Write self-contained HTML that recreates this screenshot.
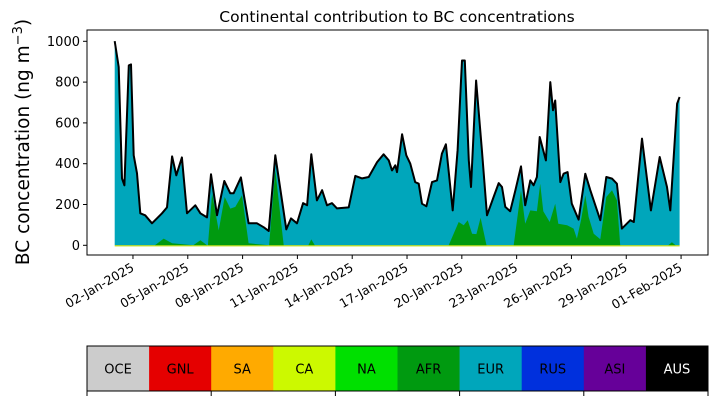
<!DOCTYPE html>
<html><head><meta charset="utf-8"><style>
body{margin:0;background:#fff;}
svg{display:block;font-family:"DejaVu Sans","Liberation Sans",sans-serif;}
</style></head><body>
<svg id="c" width="716" height="402" viewBox="0 0 716 402"></svg>
<script>
const times=[0,0.22,0.40,0.53,0.77,0.89,1.04,1.22,1.40,1.67,2.04,2.59,2.86,3.14,3.37,3.68,3.96,4.41,4.69,5.05,5.27,5.60,6.0,6.33,6.51,6.91,7.33,7.79,8.16,8.43,8.79,9.39,9.65,9.98,10.31,10.53,10.76,11.07,11.35,11.62,11.89,12.17,12.81,13.17,13.54,13.90,14.36,14.72,15.0,15.18,15.36,15.45,15.73,15.96,16.18,16.45,16.64,16.82,17.06,17.37,17.64,17.91,18.13,18.5,18.77,19.01,19.16,19.38,19.5,19.78,20.1,20.38,20.74,21.02,21.2,21.38,21.65,21.93,22.24,22.47,22.75,22.93,23.11,23.26,23.6,23.84,23.99,24.11,24.39,24.57,24.79,25.02,25.39,25.76,26.03,26.58,26.91,27.22,27.49,27.76,28.22,28.41,28.86,29.35,29.83,30.23,30.41,30.78,30.92];
const totalBC=[1001,874,328,294,882,887,441,353,157,147,108,157,186,436,343,431,157,196,157,137,348,147,315,255,255,333,108,108,88,70,441,78,132,108,207,196,446,220,270,196,207,181,186,340,328,335,408,446,416,367,392,359,544,441,400,310,302,204,191,310,318,449,495,171,466,906,906,416,286,808,466,147,237,305,286,188,167,270,387,196,318,294,335,531,416,800,662,710,310,351,359,204,126,351,270,123,335,327,302,82,123,114,523,171,433,286,171,694,727];
const afrTimes=[0,2.2,2.68,3.14,4.3,4.69,5.05,5.1,5.33,5.69,6.02,6.33,6.6,6.97,7.33,8.45,8.79,9.25,10.6,10.76,10.95,18.28,18.83,19.1,19.32,19.56,19.8,20.03,20.35,21.84,22.24,22.47,22.75,23.11,23.29,23.46,23.81,24.11,24.28,24.76,25.12,25.3,25.52,25.76,25.94,26.22,26.58,26.91,27.22,27.49,27.67,30.3,30.5,30.7,30.92];
const afrBC=[0,0,33,10,0,25,0,0,253,73,237,180,188,245,10,0,367,0,0,29,0,0,114,98,123,57,55,135,0,0,270,106,171,167,302,167,114,204,106,98,82,33,123,245,139,57,30,237,270,220,0,0,15,0,0];
const yTicks=[0,200,400,600,800,1000];
const xTickLabels=["02-Jan-2025","05-Jan-2025","08-Jan-2025","11-Jan-2025","14-Jan-2025","17-Jan-2025","20-Jan-2025","23-Jan-2025","26-Jan-2025","29-Jan-2025","01-Feb-2025"];
const xTickDays=[1,4,7,10,13,16,19,22,25,28,31];
const regions=["OCE","GNL","SA","CA","NA","AFR","EUR","RUS","ASI","AUS"];
const regionColors=["#cccccc","#e50000","#ffaa00","#ccf900","#00e000","#009a10","#00a6bb","#0030dd","#660099","#000000"];

const NS="http://www.w3.org/2000/svg";
const svg=document.getElementById('c');
const X=t=>114.7+t*18.27;
const Y=v=>245.3-v*0.204;
function mk(tag,attrs,parent){const e=document.createElementNS(NS,tag);for(const k in attrs)e.setAttribute(k,attrs[k]);(parent||svg).appendChild(e);return e;}

const frame={x:87,y:30,w:621,h:225};
let d='M'+X(times[0])+','+Y(0);
times.forEach((t,i)=>{d+=' L'+X(t).toFixed(1)+','+Y(totalBC[i]).toFixed(1);});
d+=' L'+X(times[times.length-1])+','+Y(0)+' Z';
const eur=mk('path',{d:d,fill:'#00a6bb'});


let d2='M'+X(afrTimes[0])+','+Y(0);
afrTimes.forEach((t,i)=>{d2+=' L'+X(t).toFixed(1)+','+Y(afrBC[i]).toFixed(1);});
d2+=' L'+X(afrTimes[afrTimes.length-1])+','+Y(0)+' Z';
const afr=mk('path',{d:d2,fill:'#009a10'});


const ca=mk('line',{x1:X(0),x2:X(30.92),y1:Y(0)+0.5,y2:Y(0)+0.5,stroke:'#b8d800','stroke-width':1.2});


const tl=mk('polyline',{points:times.map((t,i)=>X(t).toFixed(1)+','+Y(totalBC[i]).toFixed(1)).join(' '),fill:'none',stroke:'#000','stroke-width':2,'stroke-linejoin':'round'});


const fr=mk('rect',{x:frame.x,y:frame.y,width:frame.w,height:frame.h,fill:'none',stroke:'#000','stroke-width':1});


yTicks.forEach(v=>{
  const y=Y(v);
  const tk=mk('line',{x1:83,x2:87,y1:y,y2:y,stroke:'#000'});
  
  
  const tx=mk('text',{x:80,y:y+4.5,'text-anchor':'end','font-size':13});
  tx.textContent=v;
  
  
});
xTickDays.forEach((dd,i)=>{
  const x=X(dd);
  const tk=mk('line',{x1:x,x2:x,y1:255,y2:259,stroke:'#000'});
  
  
  const ax=x+2, ay=270;
  const tx=mk('text',{x:ax,y:ay,'text-anchor':'end','font-size':12.5,transform:'rotate(-30 '+ax+' '+ay+')'});
  tx.textContent=xTickLabels[i];
  
  
});
const title=mk('text',{x:397,y:22,'text-anchor':'middle','font-size':15.5});
title.textContent='Continental contribution to BC concentrations';


const yt=mk('text',{x:29,y:142,'text-anchor':'middle','font-size':18.5,transform:'rotate(-90 29 142)'});
yt.innerHTML='BC concentration (ng m<tspan dy="-7" font-size="13">−3</tspan><tspan dy="7">)</tspan>';


const cbX=87,cbW=621,cbY=346,cbH=45,segW=cbW/regions.length;
regions.forEach((r,i)=>{
  const rc=mk('rect',{x:cbX+i*segW,y:cbY,width:segW+0.3,height:cbH,fill:regionColors[i]});
  
  
  const tx=mk('text',{x:cbX+(i+0.5)*segW,y:cbY+cbH/2+5,'text-anchor':'middle','font-size':13,fill:r==='AUS'?'#fff':'#000'});
  tx.textContent=r;
  
  
});
const cbf=mk('rect',{x:cbX,y:cbY,width:cbW,height:cbH,fill:'none',stroke:'#000','stroke-width':1});


for(let k=0;k<=10;k+=2){
  const x=cbX+k*segW;
  const tk=mk('line',{x1:x,x2:x,y1:cbY+cbH,y2:cbY+cbH+5,stroke:'#000'});
  
  
}
</script>
</body></html>
